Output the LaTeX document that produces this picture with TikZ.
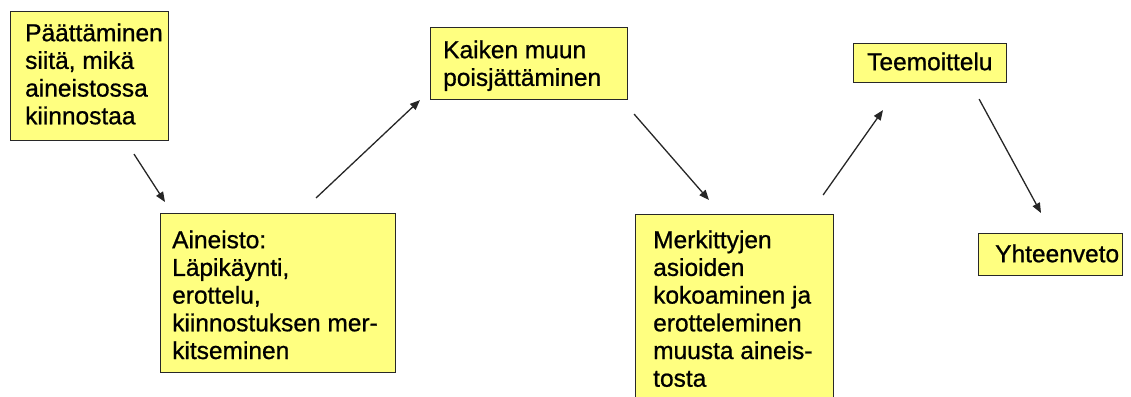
\documentclass[tikz,border=0pt]{standalone}
\usepackage{fontspec}
\setmainfont{Liberation Sans}[FakeBold=0.8]
\usetikzlibrary{arrows.meta}
\definecolor{notefill}{RGB}{255,255,128}
\definecolor{noteedge}{RGB}{40,40,40}
\tikzset{
  note/.style={draw=noteedge, line width=1.1pt, fill=notefill, inner sep=0pt, anchor=north west},
  notetext/.style={anchor=north west, inner sep=0pt, align=left,
    font=\fontsize{24.5}{27.7}\selectfont},
  flow/.style={draw=black!85, line width=1.3pt,
    -{Triangle[length=10pt,width=8pt]}},
}
\newcommand{\topstrut}{\rule{0pt}{18pt}}
\begin{document}
\begin{tikzpicture}[x=1pt,y=-1pt]
\useasboundingbox (0,0) rectangle (1131,396);

% boxes
\node[note, minimum width=158pt, minimum height=129pt] (b1) at (10,11) {};
\node[note, minimum width=235pt, minimum height=159pt] (b2) at (160,213) {};
\node[note, minimum width=197pt, minimum height=72pt]  (b3) at (430,27) {};
\node[note, minimum width=198pt, minimum height=190pt] (b4) at (635,214) {};
\node[note, minimum width=153pt, minimum height=39pt]  (b5) at (853,43) {};
\node[note, minimum width=144pt, minimum height=42pt]  (b6) at (978,233) {};

% box texts (top of the first line)
\node[notetext] (t1) at (25,23) {\topstrut Päättäminen\\siitä, mikä\\aineistossa\\kiinnostaa};
\node[notetext] (t2) at (172,230) {\topstrut Aineisto:\\Läpikäynti,\\erottelu,\\kiinnostuksen mer-\\kitseminen};
\node[notetext] (t3) at (443,40) {\topstrut Kaiken muun\\poisjättäminen};
\node[notetext] (t4) at (653,230) {\topstrut Merkittyjen\\asioiden\\kokoaminen ja\\erotteleminen\\muusta aineis-\\tosta};
\node[notetext] (t5) at (867,52) {\topstrut Teemoittelu};
\node[notetext] (t6) at (995,244) {\topstrut Yhteenveto};

% arrows between the steps
\draw[flow] ([xshift=124pt,yshift=-13pt]b1.south west) -- ([xshift=5pt,yshift=11pt]b2.north west);
\draw[flow] ([xshift=156pt,yshift=15pt]b2.north west) -- ([xshift=-10pt]b3.south west);
\draw[flow] ([xshift=6pt,yshift=-14pt]b3.south east) -- ([xshift=74pt,yshift=14pt]b4.north west);
\draw[flow] ([xshift=-11pt,yshift=19pt]b4.north east) -- ([xshift=30pt,yshift=-27pt]b5.south west);
\draw[flow] ([xshift=-28pt,yshift=-16pt]b5.south east) -- ([xshift=63pt,yshift=20pt]b6.north west);
\end{tikzpicture}
\end{document}
